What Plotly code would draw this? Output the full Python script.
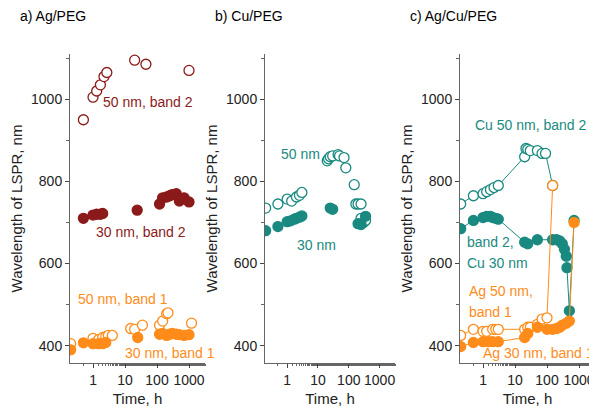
import plotly.graph_objects as go
from plotly.subplots import make_subplots

DRED = "#8B1A1A"
ORNG = "#FF8C1A"
TEAL = "#1A8A80"

# panel a: Ag/PEG
a_t50b2 = [0.5, 1, 1.3, 1.7, 2.2, 2.7, 20, 45, 1000]
a_w50b2 = [950, 1005, 1020, 1035, 1055, 1065, 1095, 1085, 1070]
a_t30b2 = [0.5, 1, 1.3, 1.7, 2, 24, 120, 150, 200, 250, 300, 400, 500, 700, 1000]
a_w30b2 = [710, 718, 720, 720, 722, 730, 745, 760, 762, 765, 768, 770, 752, 760, 750]
a_t50b1 = [0.2, 1, 1.5, 2, 2.5, 3, 4, 15, 20, 35, 120, 150, 200, 220, 1200]
a_w50b1 = [405, 418, 415, 420, 422, 425, 425, 442, 440, 450, 450, 460, 478, 480, 455]
a_t30b1 = [0.2, 0.5, 1, 1.5, 2, 2.5, 25, 120, 150, 200, 250, 300, 400, 500, 700, 1000]
a_w30b1 = [390, 407, 405, 405, 405, 408, 420, 428, 430, 425, 428, 430, 428, 427, 425, 427]

# panel b: Cu/PEG
b_t50 = [0.2, 0.5, 1, 1.4, 2, 2.5, 3, 20, 22, 25, 30, 45, 50, 70, 80, 150, 170, 200, 250, 250, 300, 350]
b_w50 = [735, 745, 757, 752, 762, 766, 773, 850, 855, 860, 862, 865, 862, 858, 833, 792, 745, 745, 745, 710, 700, 705]
b_t30 = [0.2, 0.5, 1, 1.3, 1.7, 2, 2.5, 3, 25, 30, 200, 250, 350]
b_w30 = [680, 690, 702, 704, 708, 710, 713, 716, 735, 732, 697, 695, 715]

# panel c: Ag/Cu/PEG
c_tcu50 = [0.2, 0.5, 1, 1.3, 1.7, 2.2, 3, 20, 22, 25, 30, 50, 70, 90, 150]
c_wcu50 = [745, 765, 770, 775, 780, 785, 790, 860, 880, 878, 875, 875, 868, 868, 790]
c_tcu30 = [0.2, 0.5, 1, 1.3, 1.7, 2, 2.5, 3, 20, 25, 50, 150, 200, 250, 300, 350, 400, 420, 500, 700]
c_wcu30 = [685, 705, 712, 715, 715, 712, 710, 708, 652, 648, 658, 658, 658, 655, 648, 635, 618, 590, 485, 705]
c_tag50 = [0.2, 0.5, 1, 1.3, 2, 2.5, 3, 20, 25, 30, 50, 70, 100, 150]
c_wag50 = [425, 440, 435, 435, 440, 440, 440, 440, 445, 445, 452, 465, 468, 790]
c_tag30 = [0.2, 0.5, 1, 1.5, 2, 3, 20, 25, 50, 100, 150, 200, 250, 300, 400, 500, 700]
c_wag30 = [398, 408, 410, 410, 410, 410, 420, 430, 445, 440, 440, 442, 445, 450, 455, 460, 700]

fig = make_subplots(rows=1, cols=3)


def add(t, w, color, filled, col, mode="markers"):
    fig.add_trace(go.Scatter(
        x=t, y=w, mode=mode, line=dict(color=color, width=1),
        marker=dict(size=10, color=color if filled else "white",
                    line=dict(color=color, width=1.3)),
        showlegend=False), row=1, col=col)


add(a_t50b2, a_w50b2, DRED, False, 1)
add(a_t30b2, a_w30b2, DRED, True, 1)
add(a_t50b1, a_w50b1, ORNG, False, 1)
add(a_t30b1, a_w30b1, ORNG, True, 1)
add(b_t50, b_w50, TEAL, False, 2)
add(b_t30, b_w30, TEAL, True, 2)
add(c_tcu50, c_wcu50, TEAL, False, 3, "lines+markers")
add(c_tcu30, c_wcu30, TEAL, True, 3, "lines+markers")
add(c_tag50, c_wag50, ORNG, False, 3, "lines+markers")
add(c_tag30, c_wag30, ORNG, True, 3, "lines+markers")

DY = 7
doms = [[62 / 597, 197 / 597], [257 / 597, 387 / 597], [452 / 597, 587 / 597]]
ydom = [1 - (362 - DY) / 413, 1 - (53 - DY) / 413]
for i in range(3):
    fig.update_xaxes(type="log", range=[-0.72, 3.5], domain=doms[i],
                     tickvals=[1, 10, 100, 1000], ticktext=["1", "10", "100", "1000"],
                     showline=True, linecolor="#666", ticks="outside", ticklen=4,
                     minor=dict(ticks="outside", ticklen=2, tickcolor="#666"),
                     showgrid=False, zeroline=False, tickfont=dict(size=14),
                     title=dict(text="Time, h", font=dict(size=15), standoff=6),
                     row=1, col=i + 1)
    fig.update_yaxes(range=[358, 1110], tickvals=[400, 600, 800, 1000], domain=ydom,
                     showline=True, linecolor="#666", ticks="outside", ticklen=4,
                     minor=dict(ticks="outside", ticklen=3, dtick=100, tickcolor="#666"),
                     showgrid=False, zeroline=False, tickfont=dict(size=14),
                     title=dict(text="Wavelength of LSPR, nm", font=dict(size=15), standoff=4),
                     row=1, col=i + 1)

anns = [
    ("a) Ag/PEG", 10, 15, "black", "left"),
    ("b) Cu/PEG", 205, 15, "black", "left"),
    ("c) Ag/Cu/PEG", 400, 15, "black", "left"),
    ("50 nm, band 2", 93, 101, DRED, "left"),
    ("30 nm, band 2", 86, 231, DRED, "left"),
    ("50 nm, band 1", 68, 298, ORNG, "left"),
    ("30 nm, band 1", 115, 352, ORNG, "left"),
    ("50 nm", 271, 153, TEAL, "left"),
    ("30 nm", 287, 244, TEAL, "left"),
    ("Cu 50 nm, band 2", 465, 124, TEAL, "left"),
    ("band 2,", 457, 241, TEAL, "left"),
    ("Cu 30 nm", 457, 262, TEAL, "left"),
    ("Ag 50 nm,", 459, 290, ORNG, "left"),
    ("band 1", 459, 311, ORNG, "left"),
    ("Ag 30 nm, band 1", 473, 352, ORNG, "left"),
]
for txt, x, y, c, al in anns:
    fig.add_annotation(text=txt, x=x / 597, y=1 - (y - DY) / 413, xref="paper", yref="paper",
                       showarrow=False, xanchor=al, yanchor="middle",
                       font=dict(size=14, color=c))

fig.update_layout(width=597, height=413, plot_bgcolor="white", paper_bgcolor="white",
                  margin=dict(l=0, r=0, t=0, b=0),
                  font=dict(family="Liberation Sans, Arial", color="#222"))
fig.write_html("out.html")
